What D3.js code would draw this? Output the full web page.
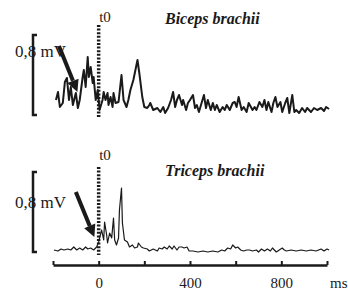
<!DOCTYPE html>
<html>
<head>
<meta charset="utf-8">
<script src="https://cdn.jsdelivr.net/npm/d3@7"></script>
<style>
  body { margin: 0; background: #fff; }
  text { font-family: "Liberation Serif", "Times New Roman", serif; fill: #1a1a1a; }
</style>
</head>
<body>
<svg id="chart"></svg>
<script>
// EMG traces, time in ms, amplitude in mV
var bicepsT = [-187,-178,-170,-157,-148,-139,-130,-122,-113,-100,-91,-83,-70,-65,-57,-48,-43,-35,-26,-22,-13,-4,4,17,22,30,39,43,52,61,65,74,87,100,109,122,130,139,152,161,170,178,191,200,213,222,226,239,257,270,283,291,304,317,326,335,343,352,365,370,383,391,400,413,422,430,439,452,461,470,478,491,500,509,517,530,543,552,561,574,587,596,604,613,626,635,648,657,674,683,691,704,717,726,735,743,757,765,774,783,796,804,817,826,835,848,857,865,878,891,904,913,930,943,957,974,987,996,1009];
var bicepsV = [0.15,0.23,0.08,0.12,0.33,0.37,0.15,0.28,0.10,0.22,0.07,0.15,0.38,0.45,0.28,0.58,0.38,0.48,0.32,0.38,0.15,0.25,0.05,0.15,0.23,0.15,0.22,0.10,0.18,0.08,0.22,0.12,0.13,0.40,0.15,0.08,0.15,0.25,0.35,0.45,0.55,0.42,0.18,0.08,0.07,0.10,0.12,0.05,0.07,0.03,0.08,0.02,0.07,0.15,0.23,0.08,0.15,0.20,0.10,0.15,0.05,0.12,0.15,0.20,0.07,0.10,0.03,0.13,0.20,0.07,0.15,0.05,0.12,0.05,0.10,0.03,0.08,0.05,0.10,0.05,0.12,0.13,0.08,0.18,0.05,0.08,0.03,0.12,0.05,0.08,0.05,0.13,0.08,0.15,0.05,0.13,0.03,0.12,0.18,0.08,0.13,0.03,0.12,0.17,0.02,0.20,0.03,0.05,0.02,0.07,0.03,0.07,0.03,0.07,0.05,0.07,0.04,0.08,0.06];

var tricepsT = [-196,-178,-165,-152,-135,-122,-109,-96,-83,-70,-57,-48,-35,-22,-9,0,4,13,22,26,35,39,48,57,65,70,78,87,91,100,104,113,126,135,148,157,170,174,187,196,213,222,239,257,265,278,287,300,309,322,330,343,352,365,374,387,396,413,435,457,478,500,522,539,552,565,578,587,600,609,622,635,648,661,674,691,700,713,726,739,752,761,778,791,804,813,822,843,865,887,909,930,952,974,987,1000,1009];
var tricepsV = [0.02,0.01,0.03,0.02,0.03,0.02,0.05,0.02,0.04,0.02,0.05,0.03,0.04,0.02,0.05,0.10,0.14,0.22,0.12,0.30,0.17,0.09,0.19,0.14,0.34,0.12,0.07,0.14,0.42,0.64,0.29,0.12,0.10,0.05,0.07,0.04,0.05,0.09,0.05,0.04,0.03,0.01,0.03,0.01,0.04,0.03,0.05,0.03,0.06,0.03,0.06,0.02,0.05,0.05,0.04,0.05,0.01,0.01,0.00,0.01,0.00,0.01,0.00,0.02,0.01,0.04,0.03,0.07,0.04,0.05,0.02,0.01,0.02,0.02,0.01,0.02,0.00,0.03,0.01,0.03,0.01,0.04,0.00,0.02,0.04,0.02,0.01,0.02,0.01,0.02,0.01,0.02,0.01,0.03,0.01,0.03,0.02];

var tickVals = [-200,0,200,400,600,800,1000];
var tickLabels = [0,400,800];
var scaleBarMV = 0.8;
// arrows: [t start, mV start, t tip, mV tip]
var bicepsArrow = [-174,0.69,-93,0.23];
var tricepsArrow = [-100,0.60,-19,0.15];

var w = 348, h = 291;

var svg = d3.select('#chart')
            .attr('width',w)
            .attr('height',h);

var x = d3.scaleLinear()
          .domain([-200,1000])
          .range([53,327]);

var drawPanel = function(cfg){
  var y = d3.scaleLinear()
            .domain([0,scaleBarMV])
            .range([cfg.bottom,cfg.bottom-80]);

  var g = svg.append('g');

  var pts = cfg.t.map(function(t,i){ return [t,cfg.v[i]]; });
  var line = d3.line()
               .x(function(d){ return x(d[0]); })
               .y(function(d){ return y(d[1]); });

  g.append('path')
   .attr('d',line(pts))
   .attr('fill','none')
   .attr('stroke','#1a1a1a')
   .attr('stroke-width',cfg.lw)
   .attr('stroke-linejoin','round');

  // t0 dotted line
  g.append('line')
   .attr('x1',x(0)).attr('x2',x(0))
   .attr('y1',cfg.dotTop).attr('y2',y(0)+3)
   .attr('stroke','#1a1a1a')
   .attr('stroke-width',3.5)
   .attr('stroke-dasharray','2,1.6');

  g.append('text')
   .attr('x',x(0)+0.5)
   .attr('y',cfg.t0y)
   .style('font-size','15px')
   .text('t0');

  // scale bar
  var bx = 33;
  g.append('path')
   .attr('d','M'+(bx+4)+','+y(scaleBarMV)+'H'+bx+'V'+y(0)+'H'+(bx+4))
   .attr('fill','none')
   .attr('stroke','#1a1a1a')
   .attr('stroke-width',2.5);

  g.append('text')
   .attr('x',15)
   .attr('y',cfg.labY)
   .style('font-size','17px')
   .text('0,8 mV');

  g.append('text')
   .attr('x',165)
   .attr('y',cfg.titleY)
   .style('font-size','16px')
   .style('font-weight','bold')
   .style('font-style','italic')
   .text(cfg.title);

  // arrow
  var a = cfg.arrow;
  var x1 = x(a[0]), y1 = y(a[1]), x2 = x(a[2]), y2 = y(a[3]);
  var ang = Math.atan2(y2-y1,x2-x1);
  var hl = 12, hw = 6;
  var bxp = x2 - hl*Math.cos(ang), byp = y2 - hl*Math.sin(ang);
  g.append('line')
   .attr('x1',x1).attr('y1',y1)
   .attr('x2',bxp).attr('y2',byp)
   .attr('stroke','#1a1a1a')
   .attr('stroke-width',4);
  g.append('path')
   .attr('d','M'+x2+','+y2+
             'L'+(bxp+hw*Math.sin(ang))+','+(byp-hw*Math.cos(ang))+
             'L'+(bxp-hw*Math.sin(ang))+','+(byp+hw*Math.cos(ang))+'Z')
   .attr('fill','#1a1a1a');
};

drawPanel({t:bicepsT, v:bicepsV, bottom:115, lw:2, dotTop:25, t0y:22,
           labY:57, titleY:24, title:'Biceps brachii', arrow:bicepsArrow});
drawPanel({t:tricepsT, v:tricepsV, bottom:252, lw:1.2, dotTop:167, t0y:160,
           labY:208, titleY:176, title:'Triceps brachii', arrow:tricepsArrow});

// time axis
var axis = d3.axisBottom(x)
             .tickValues(tickVals)
             .tickSizeInner(-4)
             .tickSizeOuter(0)
             .tickPadding(12)
             .tickFormat(function(d){ return tickLabels.indexOf(d) >= 0 ? d : ''; });

var ax = svg.append('g')
            .attr('transform','translate(0,265)')
            .call(axis);
ax.select('.domain').attr('stroke','#1a1a1a').attr('stroke-width',2.5);
ax.selectAll('.tick line').attr('stroke','#1a1a1a').attr('stroke-width',2);
ax.selectAll('.tick text')
  .style('font-family','"Liberation Serif", serif')
  .style('font-size','15px')
  .attr('fill','#1a1a1a');

svg.append('text')
   .attr('x',330)
   .attr('y',288)
   .style('font-size','15px')
   .text('ms');
</script>
</body>
</html>
